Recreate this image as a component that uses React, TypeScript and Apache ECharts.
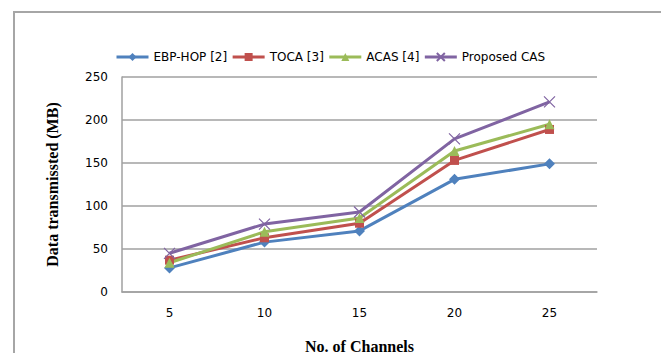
import React, { useEffect, useRef } from "react";
import * as echarts from "echarts";

// Number of channels on the x axis
const channels = ["5", "10", "15", "20", "25"];

// Data transmitted (MB) per scheme
const ebpHop = [28, 58, 71, 131, 149];
const toca = [37, 63, 80, 153, 189];
const acas = [34, 70, 86, 164, 195];
const proposedCas = [45, 79, 93, 178, 221];

const seriesNames = ["EBP-HOP [2]", "TOCA [3]", "ACAS [4]", "Proposed CAS"];
const seriesColors = ["#4F81BD", "#C0504D", "#9BBB59", "#8064A2"];

const crossSymbol = "path://M0,0L10,10M10,0L0,10";

export default function App() {
  const ref = useRef<HTMLDivElement>(null);

  useEffect(() => {
    if (!ref.current) return;
    const chart = echarts.init(ref.current, undefined, { renderer: "svg" });

    const mk = (
      idx: number,
      data: number[],
      symbol: string,
      symbolSize: number,
      extra: any = {}
    ) => ({
      name: seriesNames[idx],
      type: "line",
      data,
      symbol,
      symbolSize,
      lineStyle: { color: seriesColors[idx], width: 3 },
      itemStyle: { color: seriesColors[idx], ...extra },
      emphasis: { disabled: true },
    });

    chart.setOption({
      animation: false,
      backgroundColor: "#ffffff",
      color: seriesColors,
      textStyle: { fontFamily: "DejaVu Sans" },
      graphic: [
        {
          type: "rect",
          shape: { x: 14, y: 12, width: 648, height: 360 },
          style: { fill: "none", stroke: "#a6a6a6", lineWidth: 2 },
          silent: true,
        },
      ],
      legend: {
        top: 51,
        left: 115,
        padding: 0,
        itemWidth: 32,
        itemHeight: 10,
        itemGap: 4,
        lineStyle: { width: 3 },
        textStyle: { fontSize: 12, color: "#000", fontFamily: "DejaVu Sans" },
        data: seriesNames,
      },
      grid: { left: 122, right: 72, top: 77, bottom: 69 },
      xAxis: {
        type: "category",
        data: channels,
        boundaryGap: true,
        name: "No. of Channels",
        nameLocation: "middle",
        nameGap: 46,
        nameTextStyle: {
          fontFamily: "Liberation Serif",
          fontWeight: "bold",
          fontSize: 16,
          color: "#000",
        },
        axisLine: { lineStyle: { color: "#a0a0a0", width: 1.5 } },
        axisTick: { show: false },
        axisLabel: { fontSize: 12, color: "#000", margin: 15 },
      },
      yAxis: {
        type: "value",
        min: 0,
        max: 250,
        interval: 50,
        name: "Data transmissted (MB)",
        nameLocation: "middle",
        nameGap: 62,
        nameTextStyle: {
          fontFamily: "Liberation Serif",
          fontWeight: "bold",
          fontSize: 16,
          color: "#000",
        },
        axisLine: { show: true, lineStyle: { color: "#a0a0a0", width: 1.5 } },
        axisTick: { show: false },
        splitLine: { lineStyle: { color: "#a0a0a0", width: 1.5 } },
        axisLabel: { fontSize: 12, color: "#000", margin: 14 },
      },
      series: [
        mk(0, ebpHop, "diamond", 11),
        mk(1, toca, "rect", 9),
        mk(2, acas, "triangle", 10),
        mk(3, proposedCas, crossSymbol, 11, {
          borderColor: seriesColors[3],
          borderWidth: 1.2,
        }),
      ],
    });

    return () => chart.dispose();
  }, []);

  return <div ref={ref} style={{ width: 669, height: 361, margin: -8 }} />;
}
